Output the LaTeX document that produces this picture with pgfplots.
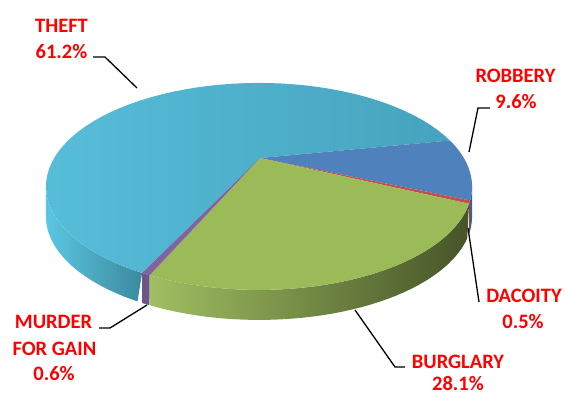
\documentclass[border=0pt]{standalone}
\usepackage{fontspec}
\setmainfont{Carlito}
\usepackage{pgfplots}
\pgfplotsset{compat=1.18}
% data (percent)
\def\pThe{61.2}
\def\pRob{9.6}
\def\pDac{0.5}
\def\pBur{28.1}
\def\pMur{0.6}
% geometry (pixels)
\def\cx{259}\def\cy{174}\def\RR{211.5}\def\SS{102}\def\kk{0.12}
\def\ax{260}\def\ay{158}\def\dep{30}
\pgfmathsetmacro\tA{20}
\pgfmathsetmacro\tB{\tA-3.6*\pRob}
\pgfmathsetmacro\tC{\tB-3.6*\pDac}
\pgfmathsetmacro\tD{\tC-3.6*\pBur}
\pgfmathsetmacro\tE{\tD-3.6*\pMur}
\pgfmathsetmacro\tF{\tE-3.6*\pThe}
\pgfmathsetmacro\tL{-180+asin(\kk)}
\pgfmathsetmacro\tR{-asin(\kk)}
\definecolor{thetop}{HTML}{4BACC6}
\definecolor{thetopl}{HTML}{56BDD9}
\definecolor{thetopr}{HTML}{47A3BD}
\definecolor{theside}{HTML}{5BC6E2}
\definecolor{robtop}{HTML}{4F81BD}
\definecolor{dactop}{HTML}{C0504D}
\definecolor{burtop}{HTML}{9BBB59}
\definecolor{murtop}{HTML}{8064A2}
\definecolor{labred}{HTML}{FF0000}
\newcommand\pieWedge[3]{%
\addplot[#1, draw=none, domain=0:1.02, samples=61, variable=\s]
 ({\s>1.01 ? \ax : px((#2)+((#3)-(#2))*min(\s,1))},
  {\s>1.01 ? \ay : py((#2)+((#3)-(#2))*min(\s,1))});}
\newcommand\pieSide[3]{%
\addplot[#1, draw=none, domain=0:2, samples=81, variable=\s]
 ({px(\s<=1 ? (#2)+((#3)-(#2))*\s : (#3)-((#3)-(#2))*(\s-1))},
  {py(\s<=1 ? (#2)+((#3)-(#2))*\s : (#3)-((#3)-(#2))*(\s-1)) + (\s>1 ? \dep : 0)});}
\begin{document}
\begin{tikzpicture}
\begin{axis}[width=565pt,height=394pt,scale only axis,
  xmin=0,xmax=565,ymin=0,ymax=394,y dir=reverse,
  axis lines=none, clip=false,
  declare function={px(\t)=\cx+\RR*cos(\t)/(1+\kk*sin(\t));
                    py(\t)=\cy-\SS*sin(\t)/(1+\kk*sin(\t));}]
\path (rel axis cs:0,0) rectangle (rel axis cs:1,1);
% sides
\pieSide{left color=theside, right color=thetop!80!black}{\tL}{\tE}
\pieSide{fill=murtop!85!black}{\tE}{\tD}
\pieSide{left color=burtop!95!white, right color=burtop!45!black}{\tD}{\tC}
\pieSide{fill=dactop!80!black}{\tC}{\tB}
\pieSide{fill=robtop!75!black}{\tB}{\tR}
% tops
\pieWedge{left color=thetopl, right color=thetopr}{\tE}{\tF}
\pieWedge{fill=robtop}{\tA}{\tB}
\pieWedge{fill=dactop}{\tB}{\tC}
\pieWedge{fill=burtop}{\tC}{\tD}
\pieWedge{fill=murtop}{\tD}{\tE}
% leader lines
\addplot[black, line width=1.3pt] coordinates {(93,57) (105,57) (137,88)};
\addplot[black, line width=1.3pt] coordinates {(490,108) (478,108) (469,152)};
\addplot[black, line width=1.3pt] coordinates {(468,228) (479,302)};
\addplot[black, line width=1.3pt] coordinates {(355,310) (395,367) (405,367)};
\addplot[black, line width=1.3pt] coordinates {(147,305) (110,328) (99,328)};
% labels
\begin{scope}[every node/.style={anchor=base, text=labred, font=\fontsize{20.5}{24}\selectfont\bfseries, inner sep=0pt}]
\node at (axis cs:61.5,32) {THEFT};
\node at (axis cs:61.5,58) {61.2\%};
\node at (axis cs:515.5,82) {ROBBERY};
\node at (axis cs:516,108) {9.6\%};
\node at (axis cs:524,302) {DACOITY};
\node at (axis cs:523,328) {0.5\%};
\node at (axis cs:458,368) {BURGLARY};
\node at (axis cs:458,390) {28.1\%};
\node at (axis cs:53.5,328) {MURDER};
\node at (axis cs:54.5,355) {FOR GAIN};
\node at (axis cs:54,380) {0.6\%};
\end{scope}
\end{axis}
\end{tikzpicture}
\end{document}
